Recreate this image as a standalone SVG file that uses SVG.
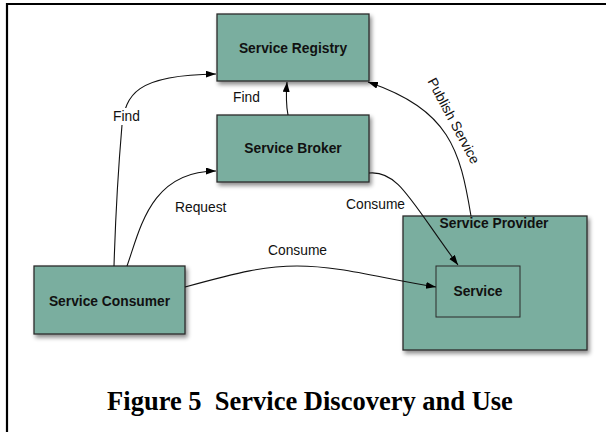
<svg xmlns="http://www.w3.org/2000/svg" width="606" height="432" viewBox="0 0 606 432">
<style>
.box{fill:#7aae9f;stroke:#2b2b2b;stroke-width:1.3}
.inner{fill:#7aae9f;stroke:#2b2b2b;stroke-width:1}
.nt{font-family:"Liberation Sans",Arial,sans-serif;font-weight:bold;font-size:13.8px;fill:#111;text-anchor:middle}
.lb{font-family:"Liberation Sans",Arial,sans-serif;font-size:13.8px;fill:#111}
.cn{fill:none;stroke:#111;stroke-width:1.1;marker-end:url(#ah)}
.bg{fill:#fff}
.cap{font-family:"Liberation Serif","Times New Roman",serif;font-weight:bold;font-size:26.5px;fill:#000;text-anchor:middle}
</style>
<defs>
<filter id="sh" x="-10%" y="-10%" width="130%" height="140%">
<feDropShadow dx="2" dy="3" stdDeviation="2" flood-color="#000" flood-opacity="0.45"/>
</filter>
<marker id="ah" markerUnits="userSpaceOnUse" markerWidth="11" markerHeight="8" refX="10" refY="3.5" orient="auto">
<path d="M0,0 L10,3.5 L0,7 z" fill="#000"/>
</marker>
</defs>
<rect width="606" height="432" fill="#fff"/>
<polyline points="7,432 7,4 606,4" fill="none" stroke="#000" stroke-width="2.2"/>

<g id="service-registry">
<rect class="box" x="217" y="14" width="152" height="67" filter="url(#sh)"/>
<text class="nt" x="293" y="53">Service Registry</text>
</g>
<g id="service-broker">
<rect class="box" x="217" y="115" width="152" height="67" filter="url(#sh)"/>
<text class="nt" x="293" y="153">Service Broker</text>
</g>
<g id="service-consumer">
<rect class="box" x="34" y="266" width="151" height="68" filter="url(#sh)"/>
<text class="nt" x="109.5" y="306">Service Consumer</text>
</g>
<g id="service-provider">
<rect class="box" x="403" y="216" width="184" height="134" filter="url(#sh)"/>
<text class="nt" x="494" y="228">Service Provider</text>
</g>
<g id="service">
<rect class="inner" x="436" y="266" width="84" height="51"/>
<text class="nt" x="478" y="296">Service</text>
</g>

<g id="connectors">
<path class="cn" d="M114,266 C116,200 119,160 122,125 C126,95 135,75 216,74"/>
<path class="cn" d="M127,266 C140,230 150,171 216,171"/>
<path class="cn" d="M288,115 C286,105 286,95 287,82"/>
<path class="cn" d="M471,216 C460,150 450,110 368,82"/>
<path class="cn" d="M369,173 C398,170 410,200 458,265"/>
<path class="cn" d="M185,287 C240,272 265,266 297,266 C340,266 380,278 436,287"/>
<rect class="bg" x="111" y="108" width="30" height="17"/>
<text class="lb" x="113" y="121">Find</text>
<rect class="bg" x="228" y="89" width="40" height="17"/>
<text class="lb" x="233" y="102">Find</text>
<text class="lb" x="175" y="212">Request</text>
<text class="lb" x="346" y="209">Consume</text>
<text class="lb" x="268" y="255">Consume</text>
<text class="lb" text-anchor="middle" transform="translate(449.5,123) rotate(62)">Publish Service</text>
</g>

<text class="cap" x="310" y="410" xml:space="preserve">Figure 5  Service Discovery and Use</text>
</svg>
